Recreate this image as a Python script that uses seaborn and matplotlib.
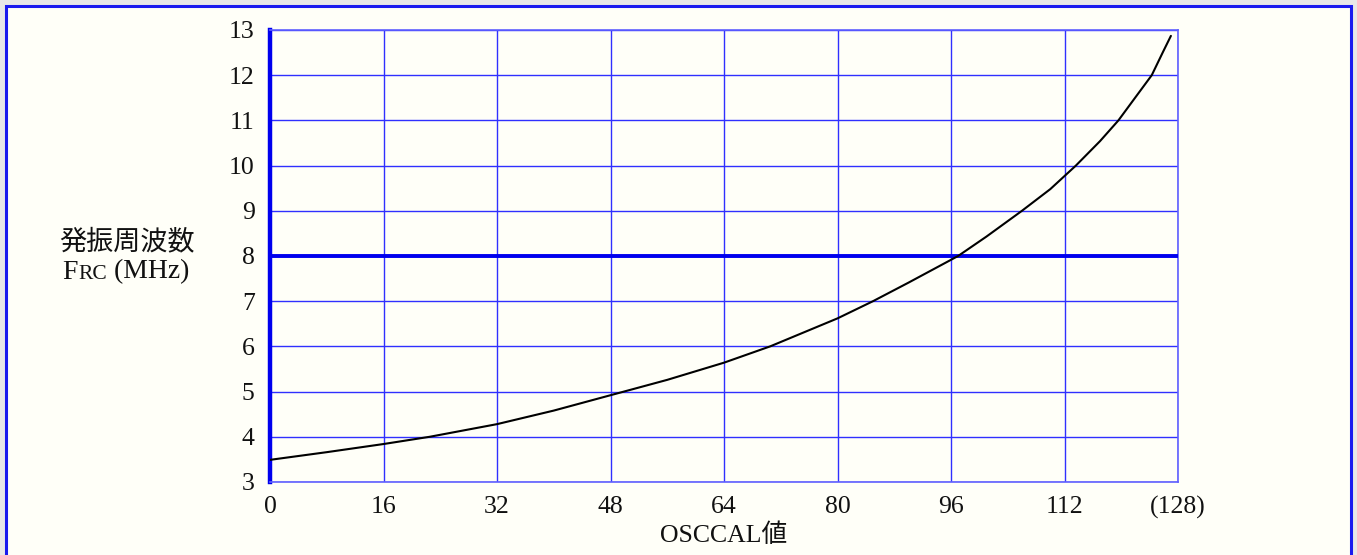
import matplotlib
matplotlib.use("Agg")
import matplotlib.pyplot as plt
import seaborn as sns
import pandas as pd
from matplotlib.patches import Rectangle
from matplotlib.offsetbox import TextArea, HPacker, AnnotationBbox

# ---- data ----
osccal = [0, 8, 16, 22.5, 32, 40, 48, 56, 64, 70.5, 80, 85, 90, 97, 101, 106, 110, 113.6,
          117, 119.6, 121.9, 124.3, 125.9, 127]
freq = [3.49, 3.66, 3.84, 4.0, 4.28, 4.58, 4.92, 5.26, 5.64, 6.0, 6.62, 7.0, 7.41, 8.0, 8.43,
        9.0, 9.48, 10.0, 10.54, 11.0, 11.49, 12.0, 12.52, 12.87]
x_ticks = [0, 16, 32, 48, 64, 80, 96, 112, 128]
x_tick_labels = ["0", "16", "32", "48", "64", "80", "96", "112", "(128)"]
y_ticks = [3, 4, 5, 6, 7, 8, 9, 10, 11, 12, 13]
ref_freq = 8
ylabel_line1 = "発振周波数"
xlabel = "OSCCAL値"

sns.set_style("white")
plt.rcParams["font.family"] = ["Liberation Serif", "Noto Sans CJK JP", "DejaVu Sans"]

W, H = 1357, 555
fig = plt.figure(figsize=(W / 100, H / 100), dpi=100, facecolor="#e8e8e8")

# page background with blue frame (bottom edge outside image)
fig.patches.append(Rectangle((6 / W, -0.05), (1351 - 6) / W, 1 - 6 / H + 0.05,
                             transform=fig.transFigure, facecolor="#fffff8",
                             edgecolor="#1a1aee", linewidth=2.2, zorder=-10))

ax = fig.add_axes([270 / W, 1 - 482 / H, (1178 - 270) / W, (482 - 30) / H])
ax.set_facecolor("#fffff8")

df = pd.DataFrame({"OSCCAL": osccal, "FRC": freq})
sns.lineplot(data=df, x="OSCCAL", y="FRC", ax=ax, color="black", linewidth=1.5, zorder=5)

ax.set_xlim(0, 128)
ax.set_ylim(3, 13)
ax.set_xticks(x_ticks)
ax.set_xticklabels(x_tick_labels)
ax.set_yticks(y_ticks)
ax.grid(True, color="#3030ff", linewidth=1.0)
ax.axhline(ref_freq, color="#0000ee", linewidth=2.8, zorder=4)

for side in ["top", "right", "bottom"]:
    ax.spines[side].set_color("#6060ff")
    ax.spines[side].set_linewidth(1.2)
ax.spines["left"].set_color("#0000ee")
ax.spines["left"].set_linewidth(3.2)

ax.tick_params(axis="both", length=0, labelsize=18.5, colors="#111111")
ax.tick_params(axis="x", pad=10)
ax.tick_params(axis="y", pad=11)
ax.set_xlabel("")
ax.set_ylabel("")

# axis titles
fig.text(724 / W, 1 - 535 / H, xlabel, ha="center", va="center", fontsize=18.5, color="#111111")
fig.text(127 / W, 1 - 242 / H, ylabel_line1, ha="center", va="center", fontsize=19.5,
         color="#111111", family=["Noto Sans CJK JP", "DejaVu Sans"])

parts = HPacker(children=[
    TextArea("F", textprops=dict(fontsize=20, color="#111111")),
    TextArea("RC", textprops=dict(fontsize=15.5, color="#111111")),
    TextArea(" (MHz)", textprops=dict(fontsize=20, color="#111111")),
], align="baseline", pad=0, sep=0)
ab = AnnotationBbox(parts, (126 / W, 1 - 272 / H), xycoords="figure fraction",
                    frameon=False, box_alignment=(0.5, 0.5))
fig.add_artist(ab)

fig.savefig("out.png", dpi=100, facecolor=fig.get_facecolor())
